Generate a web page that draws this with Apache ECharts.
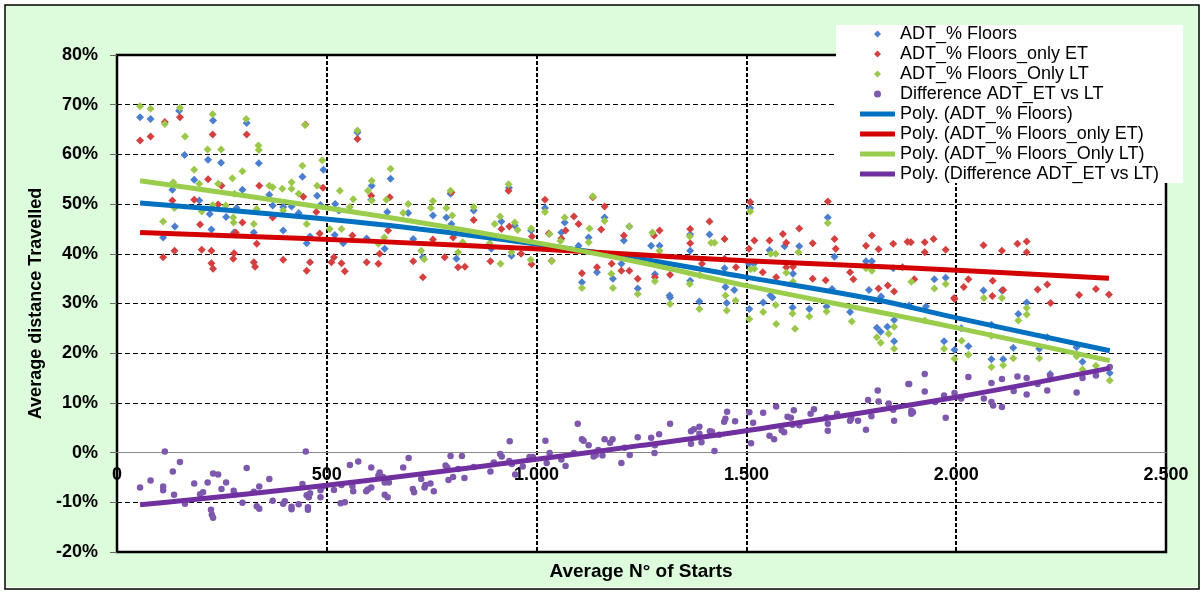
<!DOCTYPE html>
<html>
<head>
<meta charset="utf-8">
<script src="https://cdn.jsdelivr.net/npm/echarts@6/dist/echarts.min.js"></script>
<style>
  html, body { margin: 0; padding: 0; background: #fff; }
  #chart { width: 1204px; height: 592px; }
</style>
</head>
<body>
<div id="chart"></div>
<script>
// legend / series names
var seriesNames = ['ADT_% Floors', 'ADT_% Floors_only ET', 'ADT_% Floors_Only LT', 'Difference ADT_ET vs LT'];
var trendNames = ['Poly. (ADT_% Floors)', 'Poly. (ADT_% Floors_only ET)', 'Poly. (ADT_% Floors_Only LT)', 'Poly. (Difference ADT_ET vs LT)'];

// axis ticks
var xTicks = [0, 500, 1000, 1500, 2000, 2500];
var yTicks = [-20, -10, 0, 10, 20, 30, 40, 50, 60, 70, 80];

// [average n of starts, %]
var floorsData = [
  [55,67.5],[80,67.1],[148,68.8],[229,66.8],[309,66.3],[161,59.9],[217,58.9],[248,58.3],[338,58.2],[442,55.5],
  [492,56.9],[573,64.4],[132,52.9],[184,54.9],[196,50.7],[221,48.0],[260,47.4],[285,49.2],[299,52.9],[363,51.9],
  [371,49.7],[396,49.4],[416,49.5],[433,48.2],[477,51.7],[485,49.8],[110,43.3],[138,45.5],[225,44.9],[279,44.3],
  [326,44.3],[396,44.7],[452,42.1],[460,43.5],[520,50.0],[519,43.8],[539,42.1],[595,43.1],[607,53.7],[606,50.9],
  [529,48.7],[652,55.1],[644,48.4],[694,48.2],[753,47.7],[785,47.3],[797,46.0],[795,52.1],[850,48.7],[916,46.5],
  [948,45.7],[987,44.7],[1020,49.2],[934,53.3],[638,41.0],[729,39.3],[706,43.0],[809,39.0],[892,41.0],[940,39.6],
  [1059,44.3],[1067,46.3],[1100,41.6],[1124,43.3],[1162,47.3],[1208,42.7],[1221,45.5],[1108,34.3],[1144,36.3],[1182,35.0],
  [1202,38.0],[1241,33.0],[1509,49.2],[1694,47.3],[1273,41.6],[1293,41.6],[1366,43.9],[1412,43.9],[1555,40.7],[1591,41.5],
  [1626,41.5],[1710,39.4],[1785,38.5],[1799,38.5],[1850,37.1],[1366,40.6],[1366,34.6],[1448,37.1],[1506,38.0],[1518,38.0],
  [1611,36.0],[1282,35.9],[1317,31.6],[1450,33.3],[1471,32.7],[1557,31.6],[1704,32.9],[1792,32.7],[1821,31.4],[1948,34.9],
  [1975,35.2],[2065,32.6],[2109,32.6],[1318,31.2],[1388,30.4],[1453,30.1],[1507,28.9],[1540,30.2],[1562,31.2],[1610,29.2],
  [1650,28.9],[1691,29.4],[1747,28.3],[1811,25.1],[1820,24.3],[1836,25.3],[1852,22.4],[1852,26.7],[1888,29.6],[1928,29.4],
  [1971,22.4],[1996,20.7],[2029,21.4],[2012,25.0],[2084,25.7],[2084,18.8],[2112,18.8],[2136,21.1],[2168,30.2],[2148,27.9],
  [2198,20.9],[2217,23.2],[2224,15.8],[2287,21.2],[2301,18.3],[2366,16.0]
];
var onlyEtData = [
  [55,62.8],[80,63.6],[114,66.5],[150,67.5],[228,64.0],[309,64.0],[449,66.0],[573,63.1],[132,50.7],[184,50.9],
  [217,55.0],[249,53.7],[339,53.7],[444,51.5],[491,53.3],[606,51.7],[110,39.3],[137,40.6],[198,45.9],[202,40.8],
  [225,40.6],[225,38.1],[229,37.0],[241,49.9],[279,40.1],[277,39.0],[283,44.3],[299,46.3],[326,38.3],[329,37.4],
  [333,42.0],[371,47.3],[396,38.8],[452,36.6],[460,38.3],[483,44.1],[475,48.4],[511,38.3],[517,39.3],[535,38.1],
  [543,36.5],[561,43.7],[595,38.3],[623,38.0],[650,51.4],[646,44.7],[626,40.0],[706,38.5],[729,35.3],[753,42.9],
  [781,39.3],[797,52.4],[801,43.3],[813,37.3],[829,37.4],[850,46.8],[890,38.5],[916,45.0],[933,52.7],[935,45.5],
  [963,40.0],[989,43.5],[988,37.9],[1020,50.9],[1029,44.1],[1036,38.6],[1059,43.1],[1069,44.7],[1089,47.5],[1100,46.0],
  [1108,36.1],[1134,51.4],[1154,44.9],[1162,49.5],[1144,37.3],[1179,38.0],[1202,36.6],[1208,43.7],[1221,36.6],[1241,35.0],
  [1509,50.4],[1694,50.5],[1366,45.0],[1412,46.5],[1448,43.0],[1519,42.7],[1555,42.7],[1587,44.0],[1595,42.2],[1626,45.1],
  [1658,42.1],[1710,43.0],[1713,41.0],[1293,44.7],[1280,43.7],[1506,41.0],[1366,42.1],[1394,38.0],[1448,39.0],[1475,37.3],
  [1539,36.3],[1571,35.3],[1595,37.3],[1611,37.4],[1658,35.0],[1747,36.3],[1785,41.6],[1799,43.7],[1815,40.9],[1850,42.0],
  [1884,42.4],[1755,34.9],[1318,35.8],[1282,35.3],[1837,33.6],[1872,37.3],[1689,34.7],[1892,42.3],[1925,42.3],[1946,43.0],
  [1925,40.3],[1975,40.8],[2065,41.7],[2109,40.6],[2146,42.0],[2168,42.5],[2168,40.3],[1900,34.9],[1995,31.1],[2029,34.9],
  [2018,33.3],[2087,34.6],[2086,31.5],[2112,32.7],[2194,32.8],[2217,33.8],[2293,31.7],[2333,32.9],[2364,31.8],[1815,33.0],
  [1852,32.4],[1996,30.9],[2225,30.1]
];
var onlyLtData = [
  [55,69.7],[80,69.2],[114,66.1],[150,69.4],[162,63.6],[228,68.1],[308,67.1],[216,61.0],[248,61.0],[338,60.9],
  [337,61.8],[448,65.9],[573,64.8],[184,56.9],[196,54.1],[134,54.4],[137,49.2],[110,46.5],[241,54.1],[275,55.2],
  [299,56.6],[280,52.1],[259,49.7],[228,49.8],[202,48.5],[277,47.3],[278,46.3],[326,46.0],[333,49.0],[363,53.7],
  [371,53.4],[394,53.1],[416,54.4],[416,53.1],[396,48.7],[442,57.7],[433,52.1],[452,46.0],[477,53.7],[489,58.8],
  [507,45.0],[531,52.7],[535,45.0],[555,49.4],[563,51.0],[598,52.7],[607,54.7],[607,50.7],[623,42.0],[652,57.1],
  [642,50.9],[694,50.0],[682,48.2],[753,50.6],[748,49.2],[785,49.2],[799,47.7],[795,52.7],[850,49.4],[913,47.5],
  [900,46.0],[948,46.3],[955,44.8],[987,45.1],[1020,48.4],[933,54.0],[637,43.3],[725,40.6],[732,38.9],[813,40.3],
  [824,42.3],[888,42.1],[914,38.0],[940,40.3],[986,38.8],[1031,44.0],[1036,38.5],[1067,47.3],[1057,42.6],[1126,45.1],
  [1124,42.3],[1134,51.6],[1162,46.6],[1108,33.1],[1178,36.0],[1182,33.1],[1202,39.4],[1221,45.5],[1241,31.9],[1509,48.5],
  [1694,46.2],[1276,44.3],[1416,42.2],[1424,42.2],[1365,43.5],[1558,40.0],[1570,40.0],[1624,40.3],[1293,40.6],[1510,36.9],
  [1519,37.0],[1595,36.2],[1785,37.1],[1799,36.6],[1365,33.9],[1282,34.5],[1389,35.7],[1450,31.6],[1611,34.4],[1893,34.4],
  [1948,33.0],[1975,33.9],[2066,31.1],[2109,31.1],[1318,29.9],[1388,28.9],[1453,28.6],[1474,30.6],[1507,26.9],[1540,28.3],
  [1570,29.7],[1571,25.9],[1610,28.0],[1616,24.9],[1650,27.4],[1691,28.4],[1751,26.4],[1811,23.2],[1820,22.1],[1839,23.9],
  [1852,20.9],[1852,25.3],[1925,26.6],[1971,20.9],[1996,18.9],[2029,19.7],[2013,22.5],[2084,23.5],[2084,17.2],[2112,17.6],
  [2136,19.0],[2168,29.1],[2168,27.8],[2148,26.6],[2198,19.0],[2224,14.8],[2287,19.4],[2301,16.7],[2333,17.5],[2366,14.5]
];
var diffData = [
  [55,-7.0],[80,-5.6],[114,0.2],[110,-7.6],[110,-6.8],[136,-8.5],[133,-3.8],[150,-1.9],[162,-10.3],[184,-6.2],
  [198,-8.4],[205,-8.0],[216,-6.0],[226,-12.5],[224,-11.5],[229,-13.1],[229,-4.2],[241,-4.4],[249,-7.3],[260,-6.0],
  [278,-7.7],[281,-8.4],[299,-10.1],[309,-3.1],[326,-7.9],[333,-10.8],[339,-11.3],[339,-6.8],[363,-5.3],[371,-9.7],
  [396,-10.3],[400,-9.8],[416,-10.9],[416,-11.4],[433,-10.4],[442,-6.3],[450,0.2],[457,-9.0],[452,-8.6],[460,-8.2],
  [455,-11.0],[455,-11.5],[485,-9.0],[485,-7.6],[491,-6.8],[517,-7.5],[533,-10.2],[543,-10.0],[535,-6.5],[555,-2.5],
  [561,-6.7],[575,-1.8],[563,-7.8],[594,-7.8],[598,-7.4],[606,-3.0],[606,-7.0],[623,-4.6],[626,-4.0],[634,-4.9],
  [638,-6.0],[648,-6.0],[638,-8.5],[645,-9.0],[682,-3.0],[695,-1.1],[705,-7.3],[708,-8.0],[725,-5.3],[733,-7.0],
  [735,-6.5],[747,-6.2],[755,-7.8],[783,-2.6],[787,-3.0],[790,-5.5],[795,-0.7],[801,-4.9],[813,-3.3],[822,-0.7],
  [828,-5.1],[850,-2.9],[890,-3.8],[898,-2.0],[913,-0.3],[917,-0.8],[936,2.3],[935,-1.7],[941,-2.3],[949,-4.4],
  [967,-2.8],[983,-0.9],[991,-0.9],[1021,2.4],[1031,-0.1],[1024,-2.1],[1059,-1.4],[1069,-2.7],[1089,-0.1],[1098,5.8],
  [1108,2.7],[1112,2.4],[1124,1.5],[1136,-0.8],[1141,-0.5],[1147,0.5],[1157,-0.6],[1162,2.7],[1175,2.0],[1181,2.7],
  [1202,-2.1],[1210,1.0],[1222,-0.5],[1241,3.1],[1273,3.0],[1282,1.5],[1281,-0.1],[1292,3.7],[1318,5.8],[1368,4.3],
  [1375,4.7],[1368,1.8],[1388,5.2],[1388,3.8],[1393,2.1],[1413,4.3],[1424,0.3],[1418,4.2],[1435,3.6],[1447,6.2],
  [1450,6.8],[1454,8.2],[1473,6.3],[1507,8.1],[1511,1.9],[1516,6.0],[1540,8.0],[1555,3.4],[1566,2.7],[1571,9.3],
  [1584,4.5],[1590,4.1],[1598,7.2],[1606,7.0],[1613,8.5],[1610,5.6],[1626,5.5],[1653,7.8],[1661,8.7],[1691,7.1],
  [1694,5.8],[1694,4.4],[1716,7.8],[1747,6.4],[1750,6.9],[1766,6.4],[1785,4.6],[1790,10.6],[1798,7.3],[1813,12.5],
  [1815,10.3],[1839,9.9],[1850,8.6],[1852,6.4],[1886,13.8],[1888,13.8],[1893,8.4],[1897,8.1],[1893,7.8],[1925,15.8],
  [1925,12.3],[1950,10.2],[1971,11.5],[1975,7.0],[1996,12.0],[2012,10.9],[2029,15.2],[2066,10.9],[2084,14.0],[2084,10.2],
  [2088,9.5],[2109,14.8],[2109,9.2],[2137,12.4],[2146,15.3],[2168,15.0],[2168,11.7],[2194,13.8],[2217,12.5],[2224,15.5],
  [2287,12.1],[2301,15.0],[2333,15.5],[2366,17.2]
];

// trendlines
var floorsTrend = [[55,50.2],[614,46.0],[995,42.0],[1245,39.0],[1499,35.3],[1801,30.9],[1996,27.2],[2366,20.5]];
var onlyEtTrend = [[55,44.3],[614,42.5],[995,41.0],[1245,39.8],[1499,38.6],[1880,37.2],[2364,35.1]];
var onlyLtTrend = [[55,54.7],[618,47.7],[995,42.3],[1245,38.3],[1499,33.6],[1880,27.2],[1996,25.2],[2366,18.5]];
var diffTrend = [[55,-10.5],[495,-6.6],[995,-1.4],[1245,1.4],[1499,4.4],[1996,11.1],[2366,17.0]];

var pointColors = ['#4a7fd0', '#d43f3f', '#9bc84a', '#7d58ad'];
var lineColors = ['#0070c0', '#d40000', '#9acd4c', '#7030a0'];
var font = 'Liberation Sans';

function fmtThousands(v) {
  if (v >= 1000) {
    var r = String(v % 1000);
    while (r.length < 3) r = '0' + r;
    return Math.floor(v / 1000) + '.' + r;
  }
  return String(v);
}

var chart = echarts.init(document.getElementById('chart'), null, { renderer: 'canvas' });

var scatterSets = [floorsData, onlyEtData, onlyLtData, diffData];
var trendSets = [floorsTrend, onlyEtTrend, onlyLtTrend, diffTrend];
var series = [];
scatterSets.forEach(function (d, i) {
  series.push({
    name: seriesNames[i],
    type: 'scatter',
    data: d,
    symbol: i === 3 ? 'circle' : 'diamond',
    symbolSize: i === 3 ? 6.5 : 8,
    itemStyle: { color: pointColors[i], opacity: 1 },
    z: 2 + i
  });
});
trendSets.forEach(function (d, i) {
  series.push({
    name: trendNames[i],
    type: 'line',
    data: d,
    smooth: 0.4,
    symbol: 'none',
    lineStyle: { color: lineColors[i], width: 5 },
    itemStyle: { color: lineColors[i] },
    z: 10
  });
});

// legend marks: small square diamonds / dot for points, flat bar for trendlines
var diamondIcon = 'path://M3.5,0L7,3.5L3.5,7L0,3.5Z';
var lineIcon = 'path://M0,0L35,0L35,5L0,5Z';
var legendData = seriesNames.map(function (n, i) {
  return { name: n, icon: i === 3 ? 'circle' : diamondIcon };
}).concat(trendNames.map(function (n, i) {
  return { name: n, icon: lineIcon, itemStyle: { color: lineColors[i] } };
}));

var option = {
  animation: false,
  backgroundColor: '#dcfcdc',
  textStyle: { fontFamily: font },
  graphic: [
    { type: 'rect', shape: { x: 0, y: 0, width: 1204, height: 592 }, style: { fill: 'none', stroke: '#fff', lineWidth: 10 }, silent: true },
    { type: 'rect', shape: { x: 5, y: 5, width: 1194, height: 584 }, style: { fill: 'none', stroke: '#000', lineWidth: 1.5 }, silent: true },
    { type: 'text', x: 641, y: 572, style: { text: 'Average N° of Starts', align: 'center', verticalAlign: 'middle', font: 'bold 19px "Liberation Sans"', fill: '#000' }, silent: true }
  ],
  grid: {
    left: 117, right: 38, top: 55, bottom: 40,
    show: true, backgroundColor: '#fff', borderColor: '#000', borderWidth: 2.5
  },
  legend: {
    orient: 'vertical',
    left: 836, top: 25,
    padding: [0, 24, 0, 24],
    backgroundColor: '#fff',
    itemWidth: 35, itemHeight: 7, itemGap: 2,
    symbolKeepAspect: true,
    textStyle: { fontFamily: font, fontSize: 18, color: '#000', lineHeight: 18 },
    data: legendData
  },
  xAxis: {
    type: 'value',
    min: xTicks[0], max: xTicks[xTicks.length - 1], interval: 500,
    position: 'bottom',
    offset: -100,
    axisLine: { onZero: false, lineStyle: { color: '#888', width: 1 } },
    axisTick: { show: false },
    axisLabel: { margin: 14, fontSize: 18, fontWeight: 'bold', color: '#000', fontFamily: font, formatter: fmtThousands },
    splitLine: { show: true, lineStyle: { color: '#000', type: [4, 2], width: 2 } }
  },
  yAxis: {
    type: 'value',
    min: yTicks[0], max: yTicks[yTicks.length - 1], interval: 10,
    name: 'Average distance Travelled',
    nameLocation: 'middle', nameGap: 72, nameRotate: 90,
    nameTextStyle: { fontFamily: font, fontSize: 18, fontWeight: 'bold', color: '#000' },
    axisLine: { show: true, onZero: false, lineStyle: { color: '#000', width: 2 } },
    axisTick: { show: true, length: 7, lineStyle: { color: '#666' } },
    axisLabel: { margin: 19, fontSize: 18, fontWeight: 'bold', color: '#000', fontFamily: font, formatter: '{value}%' },
    splitLine: { show: true, lineStyle: { color: '#000', type: [5, 3], width: 1 } }
  },
  series: series
};

chart.setOption(option);
</script>
</body>
</html>
